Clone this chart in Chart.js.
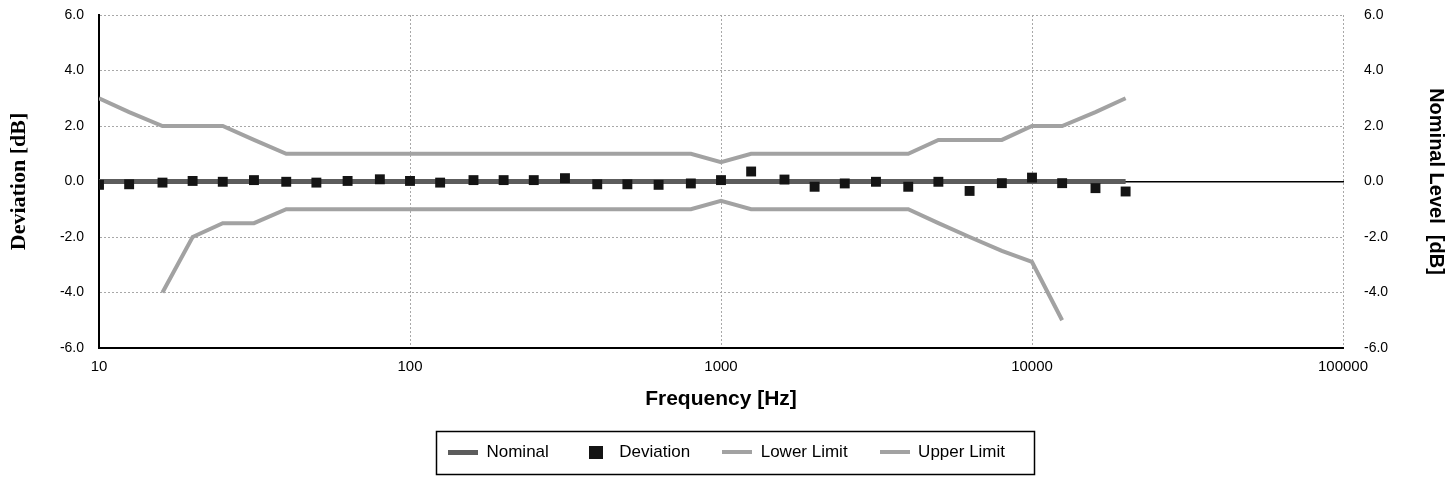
<!DOCTYPE html>
<html><head><meta charset="utf-8">
<script src="https://cdn.jsdelivr.net/npm/chart.js@4.4.1/dist/chart.umd.min.js"></script>
<style>html,body{margin:0;padding:0;background:#fff}#wrap{width:1453px;height:489px}</style>
</head><body><div id="wrap"><canvas id="c" width="1453" height="489"></canvas></div>
<script>
const frequencies = [10,12.5,16,20,25,31.5,40,50,63,80,100,125,160,200,250,315,400,500,630,800,1000,1250,1600,2000,2500,3150,4000,5000,6300,8000,10000,12500,16000,20000];
const nominal = [0,0,0,0,0,0,0,0,0,0,0,0,0,0,0,0,0,0,0,0,0,0,0,0,0,0,0,0,0,0,0,0,0,0];
const deviation = [-0.12,-0.1,-0.04,0.02,-0.01,0.05,-0.01,-0.04,0.02,0.08,0.02,-0.04,0.05,0.05,0.05,0.12,-0.1,-0.1,-0.12,-0.07,0.05,0.36,0.07,-0.19,-0.07,-0.01,-0.19,-0.01,-0.34,-0.06,0.14,-0.06,-0.24,-0.36];
const lowerLimit = [null,null,-4,-2,-1.5,-1.5,-1,-1,-1,-1,-1,-1,-1,-1,-1,-1,-1,-1,-1,-1,-0.7,-1,-1,-1,-1,-1,-1,-1.5,-2,-2.5,-2.9,-5,null,null];
const upperLimit = [3,2.5,2,2,2,1.5,1,1,1,1,1,1,1,1,1,1,1,1,1,1,0.7,1,1,1,1,1,1,1.5,1.5,1.5,2,2,2.5,3];
const xTicks = [10,100,1000,10000,100000];
const yTicks = [-6,-4,-2,0,2,4,6];
const seriesNames = ['Nominal','Deviation','Lower Limit','Upper Limit'];

const SANS = '"Liberation Sans", Arial, sans-serif';
const SERIF = '"Liberation Serif", "Times New Roman", serif';
const C_NOM = '#5c5c5c', C_DEV = '#141414', C_LIM = '#a2a2a2', C_GRID = '#a8a8a8', NONE = 'rgba(0,0,0,0)';

function toPoints(ys){ return frequencies.map((f,i)=>({x:f,y:ys[i]})).filter(p=>p.y!==null); }
function swatch(color,w,h){ const c=document.createElement('canvas'); c.width=w; c.height=h; const g=c.getContext('2d'); g.fillStyle=color; g.fillRect(0,0,w,h); return c; }
const swatches = [swatch(C_NOM,30,5), swatch(C_DEV,14,13), swatch(C_LIM,30,4), swatch(C_LIM,30,4)];

const legendFrame = {
  id:'legendFrame',
  afterDraw(chart){
    const hb = chart.legend && chart.legend.legendHitBoxes;
    if(!hb || !hb.length) return;
    const left = hb[0].left, last = hb[hb.length-1];
    const right = last.left + last.width;
    const cy = hb[0].top + hb[0].height/2;
    const ctx = chart.ctx; ctx.save();
    ctx.strokeStyle = '#000'; ctx.lineWidth = 1.5;
    ctx.strokeRect(Math.round(left-12)+0.5, Math.round(cy-21)+0.5, Math.round(right-left+41), 43);
    ctx.restore();
  }
};

new Chart(document.getElementById('c'), {
  type:'scatter',
  data:{ datasets:[
    {label:seriesNames[0], data:toPoints(nominal), showLine:true, borderColor:C_NOM, backgroundColor:C_NOM, borderWidth:5, pointRadius:0, order:1, yAxisID:'y2'},
    {label:seriesNames[1], data:toPoints(deviation), showLine:false, pointStyle:'rect', pointRadius:7, backgroundColor:C_DEV, borderColor:C_DEV, borderWidth:0, order:0, yAxisID:'y'},
    {label:seriesNames[2], data:toPoints(lowerLimit), showLine:true, borderColor:C_LIM, backgroundColor:C_LIM, borderWidth:4, pointRadius:0, order:2, yAxisID:'y'},
    {label:seriesNames[3], data:toPoints(upperLimit), showLine:true, borderColor:C_LIM, backgroundColor:C_LIM, borderWidth:4, pointRadius:0, order:2, yAxisID:'y'}
  ]},
  options:{
    responsive:false, animation:false, devicePixelRatio:1,
    layout:{padding:{top:15,bottom:18.5,left:0,right:0}},
    plugins:{
      tooltip:{enabled:false},
      legend:{
        position:'bottom',
        labels:{
          usePointStyle:true, pointStyleWidth:30, boxHeight:17, padding:32, color:'#000',
          font:{family:SANS,size:17},
          generateLabels:(chart)=>chart.data.datasets.map((ds,i)=>({text:ds.label, pointStyle:swatches[i], fillStyle:ds.borderColor, strokeStyle:ds.borderColor, lineWidth:0, hidden:false, datasetIndex:i, fontColor:'#000'}))
        }
      }
    },
    scales:{
      x:{
        type:'logarithmic', position:'bottom', min:10, max:100000,
        afterBuildTicks:(s)=>{ s.ticks = xTicks.map(v=>({value:v})); },
        afterFit:(s)=>{ s.height = 63.5; },
        ticks:{ autoSkip:false, maxRotation:0, padding:10, color:'#000', font:{family:SANS,size:15}, callback:(v)=>String(v) },
        grid:{ drawTicks:false, lineWidth:1, color:(c)=> (c.tick && c.tick.value===10) ? NONE : C_GRID },
        border:{ display:true, color:'#000', width:2, dash:[2,2] },
        title:{ display:true, text:'Frequency [Hz]', color:'#000', font:{family:SANS,size:21,weight:'bold'}, padding:{top:0,bottom:0} }
      },
      y:{
        type:'linear', position:'left', min:-6, max:6,
        afterBuildTicks:(s)=>{ s.ticks = yTicks.map(v=>({value:v})); },
        afterFit:(s)=>{ s.width = 99; },
        ticks:{ padding:0, color:'#000', font:{family:SANS,size:14}, callback:(v)=>Number(v).toFixed(1) },
        grid:{ drawTicks:true, tickLength:15, tickColor:NONE, lineWidth:1, color:(c)=> (c.tick && c.tick.value===-6) ? NONE : C_GRID },
        border:{ display:true, color:'#000', width:2, dash:[2,2] },
        title:{ display:true, text:'Deviation [dB]', color:'#000', font:{family:SERIF,size:22,weight:'bold'}, padding:{top:6,bottom:0} }
      },
      y2:{
        type:'linear', position:'right', min:-6, max:6,
        afterBuildTicks:(s)=>{ s.ticks = yTicks.map(v=>({value:v})); },
        afterFit:(s)=>{ s.width = 110; },
        ticks:{ padding:0, color:'#000', font:{family:SANS,size:14}, callback:(v)=>Number(v).toFixed(1) },
        grid:{ drawOnChartArea:false, drawTicks:true, tickLength:21, tickColor:NONE, color:NONE },
        border:{ display:false },
        title:{ display:true, text:'Nominal Level  [dB]', color:'#000', font:{family:SANS,size:20,weight:'bold'}, padding:{top:5,bottom:0} }
      },
      x0:{
        type:'logarithmic', position:{y:0}, min:10, max:100000,
        ticks:{ display:false },
        grid:{ drawOnChartArea:false, drawTicks:false, color:NONE },
        border:{ display:true, color:'#000', width:1.5 }
      }
    }
  },
  plugins:[legendFrame]
});
</script></body></html>
